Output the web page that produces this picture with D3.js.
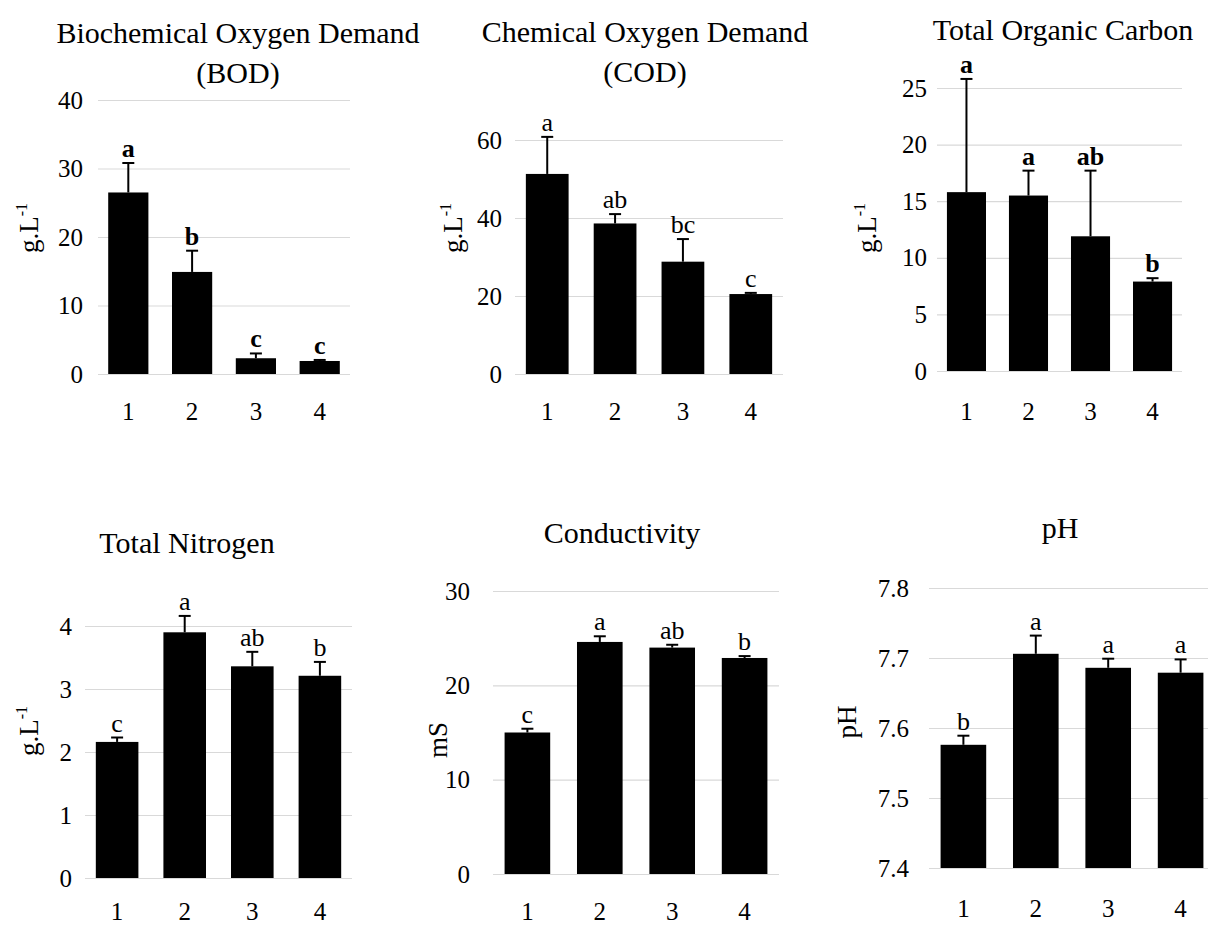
<!DOCTYPE html>
<html>
<head>
<meta charset="utf-8">
<script src="https://cdn.jsdelivr.net/npm/d3@7"></script>
<style>
  body { margin: 0; background: #fff; }
  svg text { font-family: "Liberation Serif", "Times New Roman", serif; fill: #000; }
</style>
</head>
<body>
<div id="chart"></div>
<script>
// ---- data ----
var groups = ["1", "2", "3", "4"];

var bodMean = [26.5, 14.9, 2.3, 1.9];
var bodErr  = [4.3, 3.1, 0.7, 0.15];
var bodLetters = ["a", "b", "c", "c"];
var bodTicks = [0, 10, 20, 30, 40];

var codMean = [51.3, 38.6, 28.8, 20.5];
var codErr  = [9.5, 2.4, 5.8, 0.3];
var codLetters = ["a", "ab", "bc", "c"];
var codTicks = [0, 20, 40, 60];

var tocMean = [15.8, 15.5, 11.9, 7.9];
var tocErr  = [10.0, 2.2, 5.8, 0.3];
var tocLetters = ["a", "a", "ab", "b"];
var tocTicks = [0, 5, 10, 15, 20, 25];

var tnMean = [2.16, 3.90, 3.36, 3.21];
var tnErr  = [0.07, 0.26, 0.23, 0.22];
var tnLetters = ["c", "a", "ab", "b"];
var tnTicks = [0, 1, 2, 3, 4];

var condMean = [15.0, 24.6, 24.0, 22.9];
var condErr  = [0.4, 0.6, 0.3, 0.2];
var condLetters = ["c", "a", "ab", "b"];
var condTicks = [0, 10, 20, 30];

var phMean = [7.576, 7.706, 7.686, 7.679];
var phErr  = [0.013, 0.026, 0.013, 0.019];
var phLetters = ["b", "a", "a", "a"];
var phTicks = [7.4, 7.5, 7.6, 7.7, 7.8];

var serif = '"Liberation Serif", "Times New Roman", serif';

var svg = d3.select("#chart").append("svg")
    .attr("width", 1208)
    .attr("height", 925);

// ---- panel layout (pixels) ----
var panels = [
  { title: ["Biochemical Oxygen Demand", "(BOD)"], titleX: 238, titleY: 43,
    mean: bodMean, err: bodErr, letters: bodLetters, ticks: bodTicks, fmt: d3.format("d"),
    domain: [0, 40], x0: 98, x1: 350, yTop: 100, yBottom: 374, pad: 15, xLabY: 420,
    unit: "g.L", sup: "-1", labX: 38, labY: 228, bold: true },
  { title: ["Chemical Oxygen Demand", "(COD)"], titleX: 645, titleY: 42,
    mean: codMean, err: codErr, letters: codLetters, ticks: codTicks, fmt: d3.format("d"),
    domain: [0, 60], x0: 515, x1: 783, yTop: 140, yBottom: 374, pad: 13, xLabY: 420,
    unit: "g.L", sup: "-1", labX: 462, labY: 228, bold: false },
  { title: ["Total Organic Carbon"], titleX: 1063, titleY: 40,
    mean: tocMean, err: tocErr, letters: tocLetters, ticks: tocTicks, fmt: d3.format("d"),
    domain: [0, 25], x0: 937, x1: 1182, yTop: 88, yBottom: 371, pad: 10, xLabY: 420,
    unit: "g.L", sup: "-1", labX: 876, labY: 228, bold: true },
  { title: ["Total Nitrogen"], titleX: 187, titleY: 553,
    mean: tnMean, err: tnErr, letters: tnLetters, ticks: tnTicks, fmt: d3.format("d"),
    domain: [0, 4], x0: 85, x1: 352, yTop: 626, yBottom: 878, pad: 13, xLabY: 920,
    unit: "g.L", sup: "-1", labX: 38, labY: 731, bold: false },
  { title: ["Conductivity"], titleX: 622, titleY: 543,
    mean: condMean, err: condErr, letters: condLetters, ticks: condTicks, fmt: d3.format("d"),
    domain: [0, 30], x0: 493, x1: 779, yTop: 591, yBottom: 874, pad: 23, xLabY: 920,
    unit: "mS", sup: "", labX: 447, labY: 740, bold: false },
  { title: ["pH"], titleX: 1060, titleY: 538,
    mean: phMean, err: phErr, letters: phLetters, ticks: phTicks, fmt: d3.format(".1f"),
    domain: [7.4, 7.8], x0: 929, x1: 1215, yTop: 588, yBottom: 868, pad: 20, xLabY: 917,
    unit: "pH", sup: "", labX: 856, labY: 722, bold: false }
];

panels.forEach(function (p) {
  var g = svg.append("g");

  var x = d3.scaleBand()
      .domain(groups)
      .range([p.x0, p.x1])
      .paddingInner(0.37)
      .paddingOuter(0.16);

  var y = d3.scaleLinear()
      .domain(p.domain)
      .range([p.yBottom, p.yTop]);

  // gridlines + tick labels
  var yAxis = g.append("g")
      .attr("transform", "translate(" + p.x0 + ",0)")
      .call(d3.axisLeft(y)
          .tickValues(p.ticks)
          .tickFormat(p.fmt)
          .tickSizeInner(-(p.x1 - p.x0))
          .tickSizeOuter(0)
          .tickPadding(p.pad))
      .attr("font-family", null);
  yAxis.select(".domain").remove();
  yAxis.selectAll("line").attr("stroke", "#d9d9d9").attr("stroke-width", 1.2);
  yAxis.selectAll("text")
      .attr("font-size", 25)
      .style("font-family", serif);

  // category labels
  var xAxis = g.append("g")
      .attr("transform", "translate(0," + p.yBottom + ")")
      .call(d3.axisBottom(x).tickSize(0).tickPadding(p.xLabY - p.yBottom - 17.75))
      .attr("font-family", null);
  xAxis.select(".domain").remove();
  xAxis.selectAll("text")
      .attr("font-size", 25)
      .style("font-family", serif);

  // bars
  g.selectAll("rect.bar")
      .data(p.mean)
      .enter().append("rect")
      .attr("class", "bar")
      .attr("x", function (d, i) { return x(groups[i]); })
      .attr("y", function (d) { return y(d); })
      .attr("width", x.bandwidth())
      .attr("height", function (d) { return y(p.domain[0]) - y(d); })
      .attr("fill", "#000");

  // error bars (upper only)
  g.selectAll("line.err")
      .data(p.mean)
      .enter().append("line")
      .attr("class", "err")
      .attr("x1", function (d, i) { return x(groups[i]) + x.bandwidth() / 2; })
      .attr("x2", function (d, i) { return x(groups[i]) + x.bandwidth() / 2; })
      .attr("y1", function (d) { return y(d); })
      .attr("y2", function (d, i) { return y(d + p.err[i]); })
      .attr("stroke", "#000")
      .attr("stroke-width", 2);
  g.selectAll("line.cap")
      .data(p.mean)
      .enter().append("line")
      .attr("class", "cap")
      .attr("x1", function (d, i) { return x(groups[i]) + x.bandwidth() / 2 - 6; })
      .attr("x2", function (d, i) { return x(groups[i]) + x.bandwidth() / 2 + 6; })
      .attr("y1", function (d, i) { return y(d + p.err[i]); })
      .attr("y2", function (d, i) { return y(d + p.err[i]); })
      .attr("stroke", "#000")
      .attr("stroke-width", 2);

  // significance letters
  g.selectAll("text.letter")
      .data(p.letters)
      .enter().append("text")
      .attr("class", "letter")
      .attr("x", function (d, i) { return x(groups[i]) + x.bandwidth() / 2; })
      .attr("y", function (d, i) { return y(p.mean[i] + p.err[i]) - 6; })
      .attr("text-anchor", "middle")
      .attr("font-size", 26)
      .attr("font-weight", p.bold ? "bold" : "normal")
      .style("font-family", serif)
      .text(function (d) { return d; });

  // title
  p.title.forEach(function (t, i) {
    g.append("text")
        .attr("x", p.titleX)
        .attr("y", p.titleY + i * 40)
        .attr("text-anchor", "middle")
        .attr("font-size", 30)
        .style("font-family", serif)
        .text(t);
  });

  // y-axis unit label
  var lab = g.append("text")
      .attr("transform", "translate(" + p.labX + "," + p.labY + ") rotate(-90)")
      .attr("text-anchor", "middle")
      .attr("font-size", 27)
      .style("font-family", serif);
  lab.append("tspan").text(p.unit);
  if (p.sup) {
    lab.append("tspan")
        .attr("font-size", 16)
        .attr("dy", -11)
        .text(p.sup);
  }
});
</script>
</body>
</html>
